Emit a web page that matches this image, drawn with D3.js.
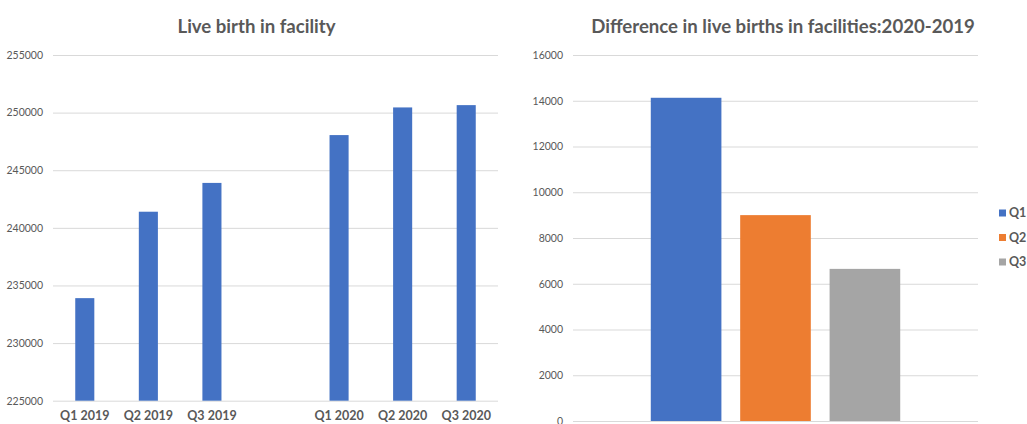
<!DOCTYPE html>
<html>
<head>
<meta charset="utf-8">
<script src="https://cdn.jsdelivr.net/npm/d3@7"></script>
<style>
  html, body { margin: 0; padding: 0; background: #fff; }
  svg { display: block; font-family: Lato, "Open Sans", sans-serif; }
</style>
</head>
<body>
<svg id="chart" width="1027" height="424"></svg>
<script>
// Quarterly live births in facilities
const quarters = ["Q1 2019", "Q2 2019", "Q3 2019", "", "Q1 2020", "Q2 2020", "Q3 2020"];
const births = [233900, 241400, 243900, null, 248050, 250450, 250650];
const birthTicks = [225000, 230000, 235000, 240000, 245000, 250000, 255000];

// Year-over-year difference per quarter
const diffSeries = ["Q1", "Q2", "Q3"];
const diffValues = [14130, 9000, 6650];
const diffTicks = [0, 2000, 4000, 6000, 8000, 10000, 12000, 14000, 16000];
const diffColors = ["#4472C4", "#ED7D31", "#A5A5A5"];

const svg = d3.select("#chart");
const textColor = "#595959";
const gridColor = "#d9d9d9";

// ---------- Left panel ----------
{
  const left = 53, right = 498, top = 55, bottom = 400.7;
  const x = d3.scaleBand().domain(quarters.map((d, i) => i)).range([left, right])
    .paddingInner(0.7).paddingOuter(0.35);
  const y = d3.scaleLinear().domain([225000, 255000]).range([bottom, top]);

  const g = svg.append("g");
  g.append("text").attr("x", 256.5).attr("y", 33).attr("text-anchor", "middle")
    .attr("font-size", 18.6).attr("font-weight", "bold").attr("fill", textColor)
    .text("Live birth in facility");

  const yAxis = g.append("g").attr("transform", `translate(${left},0)`)
    .call(d3.axisLeft(y).tickValues(birthTicks).tickSize(-(right - left)).tickPadding(10).tickFormat(d3.format("d")));
  yAxis.select(".domain").remove();
  yAxis.selectAll(".tick line").attr("stroke", gridColor).attr("stroke-width", 1);
  yAxis.selectAll(".tick text").attr("fill", textColor).attr("font-size", 10.5)
    .attr("font-family", "Lato, sans-serif");

  g.selectAll("rect.bar").data(births.map((v, i) => ({ v, i })).filter(d => d.v !== null))
    .join("rect").attr("class", "bar")
    .attr("x", d => x(d.i)).attr("width", x.bandwidth())
    .attr("y", d => y(d.v)).attr("height", d => y(225000) - y(d.v))
    .attr("fill", "#4472C4");

  const xAxis = g.append("g").attr("transform", `translate(0,${bottom})`)
    .call(d3.axisBottom(x).tickSize(0).tickPadding(10).tickFormat(i => quarters[i]));
  xAxis.select(".domain").remove();
  xAxis.selectAll(".tick text").attr("fill", textColor).attr("font-size", 12.5)
    .attr("font-weight", "bold").attr("font-family", "Lato, sans-serif");
}

// ---------- Right panel ----------
{
  const left = 573, right = 978, top = 55, bottom = 421;
  const x0 = d3.scaleBand().domain(["2020-2019"]).range([left, right])
    .paddingInner(0).paddingOuter(0.2056);
  const x1 = d3.scaleBand().domain(diffSeries).range([0, x0.bandwidth()]).padding(0.21);
  const y = d3.scaleLinear().domain([0, 16000]).range([bottom, top]);
  const color = d3.scaleOrdinal().domain(diffSeries).range(diffColors);

  const g = svg.append("g");
  g.append("text").attr("x", 783).attr("y", 33).attr("text-anchor", "middle")
    .attr("font-size", 18.6).attr("font-weight", "bold").attr("fill", textColor)
    .text("Difference in live births in facilities:2020-2019");

  const yAxis = g.append("g").attr("transform", `translate(${left},0)`)
    .call(d3.axisLeft(y).tickValues(diffTicks).tickSize(-(right - left)).tickPadding(10).tickFormat(d3.format("d")));
  yAxis.select(".domain").remove();
  yAxis.selectAll(".tick line").attr("stroke", gridColor).attr("stroke-width", 1);
  yAxis.selectAll(".tick text").attr("fill", textColor).attr("font-size", 10.5)
    .attr("font-family", "Lato, sans-serif");

  g.selectAll("rect.bar").data(diffSeries.map((s, i) => ({ s, v: diffValues[i] })))
    .join("rect").attr("class", "bar")
    .attr("x", d => x0("2020-2019") + x1(d.s)).attr("width", x1.bandwidth())
    .attr("y", d => y(d.v)).attr("height", d => y(0) - y(d.v))
    .attr("fill", d => color(d.s));

  // legend
  const legend = g.append("g").attr("transform", "translate(999,213)");
  const item = legend.selectAll("g").data(diffSeries).join("g")
    .attr("transform", (d, i) => `translate(0,${i * 24.5})`);
  item.append("rect").attr("x", 0).attr("y", -3.5).attr("width", 7).attr("height", 7)
    .attr("fill", d => color(d));
  item.append("text").attr("x", 10).attr("dy", "0.35em").attr("font-size", 12.5)
    .attr("font-weight", "bold").attr("fill", textColor).text(d => d);
}
</script>
</body>
</html>
